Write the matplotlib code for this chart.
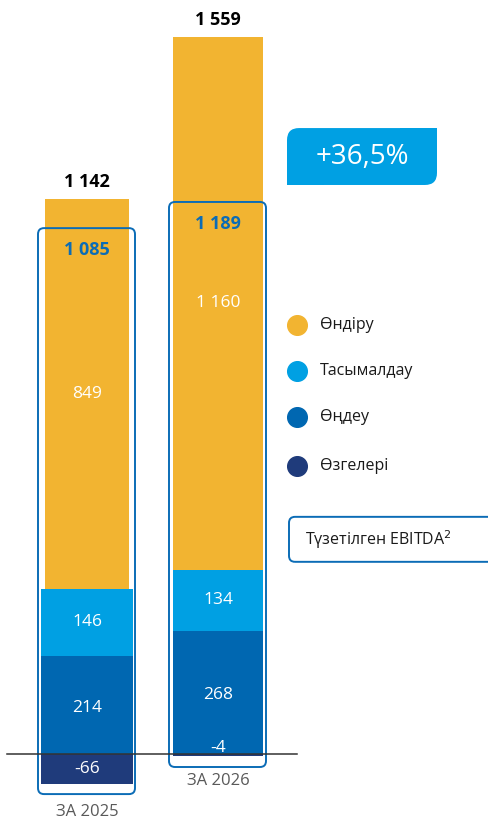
import matplotlib.pyplot as plt
from matplotlib.patches import FancyBboxPatch, Rectangle
import numpy as np

plt.rcParams['font.family'] = ['Open Sans', 'Noto Sans', 'DejaVu Sans']

# data
years = ["ЗА 2025", "ЗА 2026"]
segments = ["Өндіру", "Тасымалдау", "Өңдеу", "Өзгелері"]
production = [849, 1160]
transport = [146, 134]
processing = [214, 268]
other = [-66, -4]
totals = ["1 142", "1 559"]
adj_ebitda = ["1 085", "1 189"]
growth = "+36,5%"

colors = ["#F2B431", "#00A0E3", "#0067B1", "#1F3B7B"]
box_col = "#0B6CB6"

fig = plt.figure(figsize=(4.88, 8.23), dpi=100)
ax = fig.add_axes([0, 0, 1, 1])
ax.set_xlim(0, 488)
ax.set_ylim(-150, 1643)
ax.axis('off')

x = np.array([87, 218])
widths = [92, 90]
yellow_w = [84, 90]

# stacked bars
prod = np.array(production)
trans = np.array(transport)
proc = np.array(processing)
oth = np.array(other)

ax.bar(x, oth, width=widths, color=colors[3], zorder=2)
ax.bar(x, proc, width=widths, color=colors[2], zorder=2)
ax.bar(x, trans, bottom=proc, width=widths, color=colors[1], zorder=2)
ax.bar(x, prod, bottom=proc + trans, width=yellow_w, color=colors[0], zorder=2)

# segment labels
fs = 12.5
for i in range(2):
    ax.text(x[i], proc[i] + trans[i] + prod[i] * 0.5, f"{prod[i]:,}".replace(",", " "),
            color="white", ha="center", va="center", fontsize=fs, zorder=4)
    ax.text(x[i], proc[i] + trans[i] * 0.5, str(trans[i]), color="white",
            ha="center", va="center", fontsize=fs, zorder=4)
    ax.text(x[i], proc[i] * 0.5 - 6, str(proc[i]), color="white",
            ha="center", va="center", fontsize=fs, zorder=4)
lbl_y = [-33, 14]
for i in range(2):
    ax.text(x[i], lbl_y[i], str(oth[i]), color="white", ha="center", va="center",
            fontsize=fs, zorder=4)

# totals on top
tops = proc + trans + prod
for i in range(2):
    ax.text(x[i], tops[i] + 38, totals[i], ha="center", va="center", fontsize=13,
            fontweight="bold", color="black", zorder=4)

# adjusted EBITDA boxes
box_top = [1146, 1203]
box_bot = [-87, -28]
box_x = [38, 169]
for i in range(2):
    b = FancyBboxPatch((box_x[i], box_bot[i]), 97, box_top[i] - box_bot[i],
                       boxstyle="round,pad=0,rounding_size=6", fill=False,
                       edgecolor=box_col, linewidth=1.4, zorder=3,
                       mutation_aspect=2.2)
    ax.add_patch(b)
    ax.text(x[i], box_top[i] - 48, adj_ebitda[i], ha="center", va="center",
            fontsize=13, fontweight="bold", color=box_col, zorder=4)

# baseline
ax.plot([7, 297], [0, 0], color="#333333", linewidth=1.1, zorder=5)

# year labels
ax.text(x[0], -125, years[0], ha="center", va="center", fontsize=12, color="#595959")
ax.text(x[1], -59, years[1], ha="center", va="center", fontsize=12, color="#595959")

# growth badge (rounded top-left and bottom-right corners)
badge = FancyBboxPatch((287, 1240), 150, 124, boxstyle="round,pad=0,rounding_size=12",
                       facecolor="#00A0E3", edgecolor="none", mutation_aspect=2.2)
ax.add_patch(badge)
ax.add_patch(Rectangle((400, 1300), 37, 64, facecolor="#00A0E3", edgecolor="none"))
ax.add_patch(Rectangle((287, 1240), 37, 64, facecolor="#00A0E3", edgecolor="none"))
ax.text(362, 1302, growth, ha="center", va="center", fontsize=20, color="white")

# legend
leg_y = [936, 834, 734, 627]
for i, s in enumerate(segments):
    ax.scatter(297, leg_y[i], s=200, color=colors[i], zorder=4)
    ax.text(320, leg_y[i], s, ha="left", va="center", fontsize=11.5, color="#1a1a1a")

leg_box = FancyBboxPatch((289, 419), 205, 98, boxstyle="round,pad=0,rounding_size=6",
                         fill=False, edgecolor=box_col, linewidth=1.4,
                         mutation_aspect=2.2)
ax.add_patch(leg_box)
ax.text(305, 468, "Түзетілген EBITDA$^2$", ha="left", va="center", fontsize=11.5,
        color="#1a1a1a")

fig.savefig("out.png", dpi=100)
